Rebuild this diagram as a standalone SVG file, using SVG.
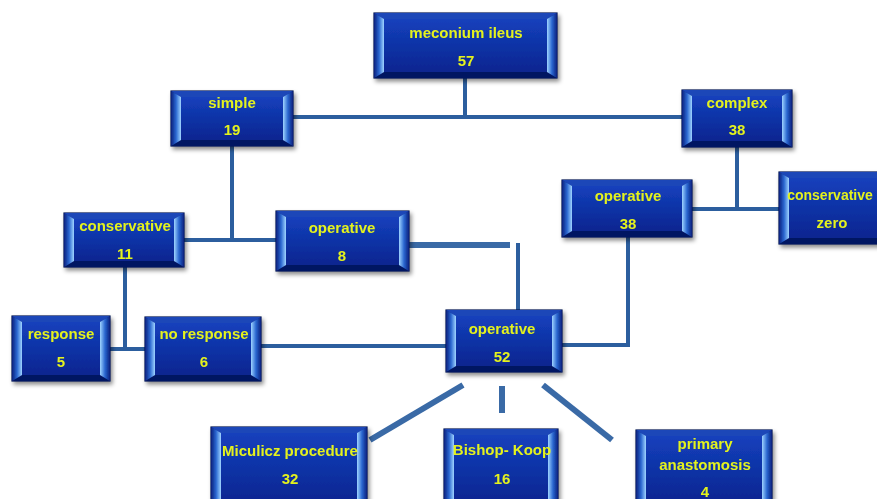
<svg xmlns="http://www.w3.org/2000/svg" width="877" height="499" viewBox="0 0 877 499">
<defs>
<linearGradient id="gi" x1="0" y1="0" x2="0" y2="1"><stop offset="0" stop-color="#1440bc"/><stop offset="1" stop-color="#0a2590"/></linearGradient>
<linearGradient id="gl" x1="0" y1="0" x2="1" y2="0"><stop offset="0" stop-color="#08207c"/><stop offset="0.5" stop-color="#2a66d0"/><stop offset="1" stop-color="#9fd4ff"/></linearGradient>
<linearGradient id="gr" x1="1" y1="0" x2="0" y2="0"><stop offset="0" stop-color="#08207c"/><stop offset="0.5" stop-color="#2a66d0"/><stop offset="1" stop-color="#9fd4ff"/></linearGradient>
<filter id="sh" x="-10%" y="-10%" width="130%" height="140%"><feDropShadow dx="2" dy="3" stdDeviation="2" flood-color="#000" flood-opacity="0.45"/></filter>
</defs>
<style>
.o{fill:#0a2688;stroke:#051452;stroke-width:1.2}
.t{fill:#1d46b8}
.b{fill:#051862}
.l{fill:url(#gl)}
.r{fill:url(#gr)}
.i{fill:url(#gi)}
text{font-family:"Liberation Sans",Arial,sans-serif;font-weight:bold;font-size:15px;fill:#e4f21e;text-anchor:middle}
.c{stroke:#2c5e9e;stroke-width:4;fill:none}
.cw{stroke:#3a6aa6;stroke-width:6;fill:none}
</style>
<g id="connectors">
<line class="c" x1="465" y1="78" x2="465" y2="117"/>
<line class="c" x1="293" y1="117" x2="682" y2="117"/>
<line class="c" x1="232" y1="146" x2="232" y2="240"/>
<line class="c" x1="184" y1="240" x2="276" y2="240"/>
<line class="c" x1="125" y1="267" x2="125" y2="349"/>
<line class="c" x1="110" y1="349" x2="145" y2="349"/>
<line class="c" x1="261" y1="346" x2="446" y2="346"/>
<line class="cw" x1="409" y1="245" x2="510" y2="245"/>
<line class="c" x1="518" y1="243" x2="518" y2="312"/>
<line class="c" x1="737" y1="147" x2="737" y2="209"/>
<line class="c" x1="692" y1="209" x2="779" y2="209"/>
<polyline class="c" points="628,237 628,345 562,345"/>
<line class="cw" x1="463" y1="385" x2="370" y2="440"/>
<line class="cw" x1="502" y1="386" x2="502" y2="413"/>
<line class="cw" x1="543" y1="385" x2="612" y2="440"/>
</g>
<g id="n1" filter="url(#sh)">
<rect class="o" x="374" y="13" width="183" height="65"/>
<polygon class="t" points="374,13 557,13 547,19 384,19"/>
<polygon class="b" points="374,78 557,78 547,72 384,72"/>
<polygon class="l" points="374,13 384,19 384,72 374,78"/>
<polygon class="r" points="557,13 547,19 547,72 557,78"/>
<rect class="i" x="384" y="19" width="163" height="53"/>
<text x="466" y="38">meconium ileus</text><text x="466" y="66">57</text>
</g>
<g id="n2" filter="url(#sh)">
<rect class="o" x="171" y="91" width="122" height="55"/>
<polygon class="t" points="171,91 293,91 283,97 181,97"/>
<polygon class="b" points="171,146 293,146 283,140 181,140"/>
<polygon class="l" points="171,91 181,97 181,140 171,146"/>
<polygon class="r" points="293,91 283,97 283,140 293,146"/>
<rect class="i" x="181" y="97" width="102" height="43"/>
<text x="232" y="108">simple</text><text x="232" y="135">19</text>
</g>
<g id="n3" filter="url(#sh)">
<rect class="o" x="682" y="90" width="110" height="57"/>
<polygon class="t" points="682,90 792,90 782,96 692,96"/>
<polygon class="b" points="682,147 792,147 782,141 692,141"/>
<polygon class="l" points="682,90 692,96 692,141 682,147"/>
<polygon class="r" points="792,90 782,96 782,141 792,147"/>
<rect class="i" x="692" y="96" width="90" height="45"/>
<text x="737" y="108">complex</text><text x="737" y="135">38</text>
</g>
<g id="n4" filter="url(#sh)">
<rect class="o" x="64" y="213" width="120" height="54"/>
<polygon class="t" points="64,213 184,213 174,219 74,219"/>
<polygon class="b" points="64,267 184,267 174,261 74,261"/>
<polygon class="l" points="64,213 74,219 74,261 64,267"/>
<polygon class="r" points="184,213 174,219 174,261 184,267"/>
<rect class="i" x="74" y="219" width="100" height="42"/>
<text x="125" y="231">conservative</text><text x="125" y="259">11</text>
</g>
<g id="n5" filter="url(#sh)">
<rect class="o" x="276" y="211" width="133" height="60"/>
<polygon class="t" points="276,211 409,211 399,217 286,217"/>
<polygon class="b" points="276,271 409,271 399,265 286,265"/>
<polygon class="l" points="276,211 286,217 286,265 276,271"/>
<polygon class="r" points="409,211 399,217 399,265 409,271"/>
<rect class="i" x="286" y="217" width="113" height="48"/>
<text x="342" y="233">operative</text><text x="342" y="261">8</text>
</g>
<g id="n6" filter="url(#sh)">
<rect class="o" x="562" y="180" width="130" height="57"/>
<polygon class="t" points="562,180 692,180 682,186 572,186"/>
<polygon class="b" points="562,237 692,237 682,231 572,231"/>
<polygon class="l" points="562,180 572,186 572,231 562,237"/>
<polygon class="r" points="692,180 682,186 682,231 692,237"/>
<rect class="i" x="572" y="186" width="110" height="45"/>
<text x="628" y="201">operative</text><text x="628" y="229">38</text>
</g>
<g id="n7" filter="url(#sh)">
<rect class="o" x="779" y="172" width="108" height="72"/>
<polygon class="t" points="779,172 887,172 877,178 789,178"/>
<polygon class="b" points="779,244 887,244 877,238 789,238"/>
<polygon class="l" points="779,172 789,178 789,238 779,244"/>
<rect class="i" x="789" y="178" width="88" height="60"/>
<text x="830" y="200" style="font-size:14px">conservative</text><text x="832" y="228">zero</text>
</g>
<g id="n8" filter="url(#sh)">
<rect class="o" x="12" y="316" width="98" height="65"/>
<polygon class="t" points="12,316 110,316 100,322 22,322"/>
<polygon class="b" points="12,381 110,381 100,375 22,375"/>
<polygon class="l" points="12,316 22,322 22,375 12,381"/>
<polygon class="r" points="110,316 100,322 100,375 110,381"/>
<rect class="i" x="22" y="322" width="78" height="53"/>
<text x="61" y="339">response</text><text x="61" y="367">5</text>
</g>
<g id="n9" filter="url(#sh)">
<rect class="o" x="145" y="317" width="116" height="64"/>
<polygon class="t" points="145,317 261,317 251,323 155,323"/>
<polygon class="b" points="145,381 261,381 251,375 155,375"/>
<polygon class="l" points="145,317 155,323 155,375 145,381"/>
<polygon class="r" points="261,317 251,323 251,375 261,381"/>
<rect class="i" x="155" y="323" width="96" height="52"/>
<text x="204" y="339">no response</text><text x="204" y="367">6</text>
</g>
<g id="n10" filter="url(#sh)">
<rect class="o" x="446" y="310" width="116" height="62"/>
<polygon class="t" points="446,310 562,310 552,316 456,316"/>
<polygon class="b" points="446,372 562,372 552,366 456,366"/>
<polygon class="l" points="446,310 456,316 456,366 446,372"/>
<polygon class="r" points="562,310 552,316 552,366 562,372"/>
<rect class="i" x="456" y="316" width="96" height="50"/>
<text x="502" y="334">operative</text><text x="502" y="362">52</text>
</g>
<g id="n11" filter="url(#sh)">
<rect class="o" x="211" y="427" width="156" height="76"/>
<polygon class="t" points="211,427 367,427 357,433 221,433"/>
<polygon class="l" points="211,427 221,433 221,503 211,503"/>
<polygon class="r" points="367,427 357,433 357,503 367,503"/>
<rect class="i" x="221" y="433" width="136" height="70"/>
<text x="290" y="456">Miculicz procedure</text><text x="290" y="484">32</text>
</g>
<g id="n12" filter="url(#sh)">
<rect class="o" x="444" y="429" width="114" height="74"/>
<polygon class="t" points="444,429 558,429 548,435 454,435"/>
<polygon class="l" points="444,429 454,435 454,503 444,503"/>
<polygon class="r" points="558,429 548,435 548,503 558,503"/>
<rect class="i" x="454" y="435" width="94" height="68"/>
<text x="502" y="455">Bishop- Koop</text><text x="502" y="484">16</text>
</g>
<g id="n13" filter="url(#sh)">
<rect class="o" x="636" y="430" width="136" height="73"/>
<polygon class="t" points="636,430 772,430 762,436 646,436"/>
<polygon class="l" points="636,430 646,436 646,503 636,503"/>
<polygon class="r" points="772,430 762,436 762,503 772,503"/>
<rect class="i" x="646" y="436" width="116" height="67"/>
<text x="705" y="449">primary</text><text x="705" y="470">anastomosis</text><text x="705" y="497">4</text>
</g>
</svg>
